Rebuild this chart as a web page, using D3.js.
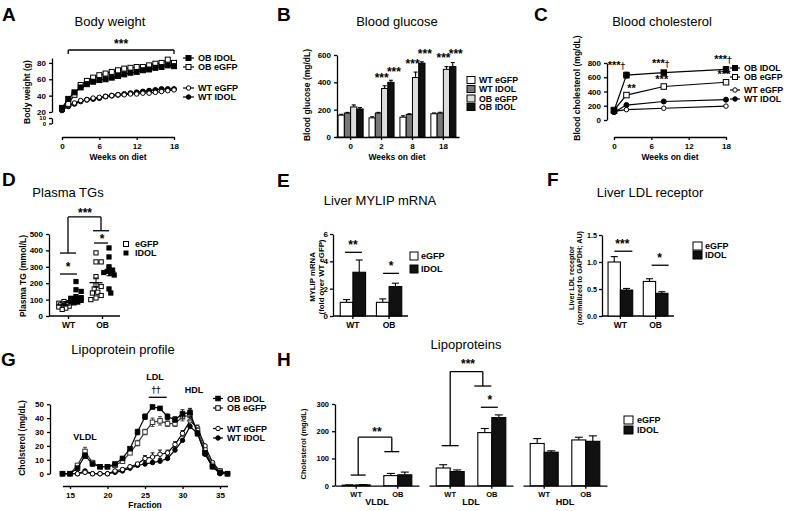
<!DOCTYPE html>
<html><head><meta charset="utf-8">
<script src="https://cdn.jsdelivr.net/npm/d3@7/dist/d3.min.js"></script>
<style>html,body{margin:0;padding:0;background:#fff;}svg{display:block;}</style>
</head><body>
<svg id="chart" width="791" height="511"></svg>
<script>
// ================= DATA =================
// A: Body weight (g)
const bwWeeks  = [0,1,2,3,4,5,6,7,8,9,10,11,12,13,14,15,16,17,18];
const bwOBIDOL = [25,36,44,50,54,57,59,60,62,64,66,68,69,71,72,74,75,77,76];
const bwOBeGFP = [24,30,41,53,58,62,65,67,69,71,73,74,75,75,77,79,80,84,80];
const bwWTeGFP = [25,28,31,34,35,37,38,39,40,41,41,42,42,43,43,44,45,46,47];
const bwWTIDOL = [22,27,30,33,35,36,37,39,40,41,42,43,44,45,46,47,48,48,48];
const bwTicksUpper = [20,40,60,80];
const bwTicksLower = [0,10];
const dietTicks = [0,6,12,18];

// B: Blood glucose (mg/dL)
const bgWeeks  = ["0","2","8","18"];
const bgGroups = ["WT eGFP","WT IDOL","OB eGFP","OB IDOL"];
const bgWTeGFP = [160,140,145,170];
const bgWTIDOL = [175,175,165,175];
const bgOBeGFP = [220,355,435,495];
const bgOBIDOL = [205,400,540,515];
const bgWTeGFPerr = [6,8,10,6];
const bgWTIDOLerr = [5,5,5,6];
const bgOBeGFPerr = [15,20,40,20];
const bgOBIDOLerr = [10,15,10,30];
const bgStarsOB = ["","***","***","***"];
const bgTicks = [0,200,400,600];

// C: Blood cholesterol (mg/dL)
const bcWeeks  = [0,2,8,18];
const bcOBIDOL = [130,630,665,710];
const bcOBeGFP = [140,350,470,530];
const bcWTeGFP = [120,145,165,195];
const bcWTIDOL = [110,210,260,285];
const bcOBIDOLerr = [20,40,20,40];
const bcOBeGFPerr = [20,20,30,30];
const bcStarsIDOL = ["","***","***","***"];
const bcStarsEGFP = ["","**","***","***"];
const bcTicks = [0,200,400,600,800];

// D: Plasma TG (individual mice)
const tgGenotypes = ["WT","OB"];
const tgWTeGFP = [40,48,55,60,64,67,70,72,75,78,82,88];
const tgWTIDOL = [80,85,90,95,100,104,108,112,118,150,160,210];
const tgOBeGFP = [100,110,125,140,145,165,180,190,240,330,330,385];
const tgOBIDOL = [140,165,250,260,265,272,280,300,360,415];
const tgTicks = [0,100,200,300,400,500];

// E: Liver MYLIP mRNA
const genotypes = ["WT","OB"];
const mylipEGFP = [1.0,1.0];
const mylipIDOL = [3.2,2.15];
const mylipEGFPerr = [0.2,0.25];
const mylipIDOLerr = [0.9,0.25];
const mylipTicks = [0,2,4,6];

// F: Liver LDL receptor
const ldlrEGFP = [1.0,0.64];
const ldlrIDOL = [0.48,0.42];
const ldlrEGFPerr = [0.1,0.05];
const ldlrIDOLerr = [0.03,0.03];
const ldlrTicks = [0,0.5,1.0,1.5];

// G: Lipoprotein profile
const fractions = [14,15,16,17,18,19,20,21,22,23,24,25,26,27,28,29,30,31,32,33,34,35,36];
const lpOBIDOL = [0,0,4,13,7,5,5,7,11,18,30,41,48,47,41,39,43,44,29,15,5,1,0];
const lpOBeGFP = [0,0,6,16,8,5,5,6,9,15,22,30,37,38,36,36,41,42,31,17,6,2,0];
const lpWTeGFP = [0,0,0,1,0,0,0,2,3,5,7,11,12,14,15,21,29,38,33,20,8,2,0];
const lpWTIDOL = [0,0,0,2,0,0,0,1,2,4,6,7,8,9,11,17,24,34,29,14,5,0,0];
const lpOBIDOLerr = [0,0,1,2,1,1,1,1,1,1,2,2,1,1,2,2,3,3,2,1,1,0,0];
const lpOBeGFPerr = [0,0,1,3,1,1,1,1,1,1,2,2,3,3,2,2,3,4,2,1,1,0,0];
const lpWTeGFPerr = [0,0,0,1,0,0,0,1,1,1,1,2,3,3,2,2,2,3,2,1,1,0,0];
const fractionTicks = [15,20,25,30,35];
const lpTicks = [0,10,20,30,40,50];

// H: Lipoproteins (mg/dL)
const lpClasses = ["VLDL","LDL","HDL"];
const lipEGFP = [[2,37],[65,195],[155,168]];
const lipIDOL = [[3,40],[52,250],[123,163]];
const lipEGFPerr = [[1,8],[12,15],[18,10]];
const lipIDOLerr = [[1,10],[6,10],[5,20]];
const lipTicks = [0,100,200,300];

// ================= DRAWING =================
const FONT = '"Liberation Sans", Arial, Helvetica, sans-serif';
const svg = d3.select("#chart").attr("font-family", FONT);

function T(x, y, s, o = {}) {
  return svg.append("text").attr("x", x).attr("y", y).text(s)
    .attr("font-size", o.fs || 8).attr("font-weight", o.fw || "bold")
    .attr("text-anchor", o.anchor || "start").attr("fill", "#000");
}
function rotT(x, y, s, fs) {
  return svg.append("text").attr("transform", `translate(${x},${y}) rotate(-90)`)
    .attr("text-anchor", "middle").attr("font-size", fs).attr("font-weight", "bold").attr("fill", "#000").text(s);
}
function L(x1, y1, x2, y2, w = 1.3, c = "#000") {
  svg.append("line").attr("x1", x1).attr("y1", y1).attr("x2", x2).attr("y2", y2)
    .attr("stroke", c).attr("stroke-width", w);
}
function stars(x, cy, s, fs = 12) { return T(x, cy + 0.57 * fs, s, { fs, anchor: "middle" }); }
function starsDagger(x, cy, s, fs = 11) {
  const t = svg.append("text").attr("x", x).attr("y", cy + 0.57 * fs).attr("text-anchor", "middle")
    .attr("font-size", fs).attr("font-weight", "bold").attr("fill", "#000");
  t.append("tspan").text(s);
  t.append("tspan").attr("font-family", "DejaVu Sans").attr("font-weight", "normal").attr("font-size", fs * 0.85).attr("fill", "#000").text("\u2020");
}
function styleAxis(g, fs = 8) {
  g.attr("font-family", FONT).attr("font-size", fs).attr("font-weight", "bold");
  g.select(".domain").attr("stroke", "#000").attr("stroke-width", 1.3);
  g.selectAll(".tick line").attr("stroke", "#000").attr("stroke-width", 1.3);
  g.selectAll(".tick text").attr("fill", "#000");
}
function mark(type, x, y, s, stroke = "#000") {
  const fill = type[1] === "F" ? "#000" : "#fff";
  if (type[0] === "s") svg.append("rect").attr("x", x - s / 2).attr("y", y - s / 2).attr("width", s).attr("height", s)
    .attr("fill", fill).attr("stroke", stroke).attr("stroke-width", 1);
  else svg.append("circle").attr("cx", x).attr("cy", y).attr("r", s / 2)
    .attr("fill", fill).attr("stroke", stroke).attr("stroke-width", 1);
}
function errV(x, y1, y2, cap, w = 1.1) { L(x, y1, x, y2, w); L(x - cap, y2, x + cap, y2, w); }
function panelLetter(x, y, s) { T(x, y, s, { fs: 19 }); }
function title(x, y, s) { T(x, y, s, { fs: 13, fw: "normal", anchor: "middle" }); }
function bracket(x1, x2, yTop, y1, y2, capW = 8) {
  L(x1, yTop, x2, yTop); L(x1, yTop, x1, y1); L(x2, yTop, x2, y2);
  L(x1 - capW, y1, x1 + capW, y1); L(x2 - capW, y2, x2 + capW, y2);
}

// ---------- Panel A ----------
panelLetter(2, 21, "A"); title(110, 26, "Body weight");
const xA = d3.scaleLinear().domain([0, 18]).range([62, 174]);
const yA = d3.scaleLinear().domain([20, 86]).range([112, 58]);
const yAlow = d3.scaleLinear().domain([0, 10]).range([123.5, 118]);
styleAxis(svg.append("g").attr("transform", "translate(52,0)")
  .call(d3.axisLeft(yA).tickValues(bwTicksUpper).tickSize(3).tickSizeOuter(0)));
styleAxis(svg.append("g").attr("transform", "translate(52,0)")
  .call(d3.axisLeft(yAlow).tickValues(bwTicksLower).tickSize(3).tickSizeOuter(0)), 6);
styleAxis(svg.append("g").attr("transform", "translate(0,137)")
  .call(d3.axisBottom(xA).tickValues(dietTicks).tickSize(3).tickSizeOuter(0)));
T(118, 160, "Weeks on diet", { fs: 8.5, anchor: "middle" });
rotT(30, 92, "Body weight (g)", 8.5);
const bwSeries = [
  { v: bwWTIDOL, t: "cF", s: 5 }, { v: bwWTeGFP, t: "cO", s: 4.5 },
  { v: bwOBeGFP, t: "sO", s: 5 }, { v: bwOBIDOL, t: "sF", s: 5 }];
bwSeries.forEach(se => {
  svg.append("path").datum(se.v).attr("fill", "none").attr("stroke", "#000").attr("stroke-width", 1.2)
    .attr("d", d3.line().x((d, i) => xA(bwWeeks[i])).y(d => yA(d)));
  se.v.forEach((d, i) => mark(se.t, xA(bwWeeks[i]), yA(d), se.s));
});
bracket(xA(1), xA(18), 50, 54, 54, 0);
stars(xA(9.5), 41, "***", 12);
[["OB IDOL", "sF", 58], ["OB eGFP", "sO", 67], ["WT eGFP", "cO", 88], ["WT IDOL", "cF", 97]].forEach(([n, t, y]) => {
  L(183, y, 194, y, 1.2); mark(t, 188.5, y, t[0] === "s" ? 5 : 4.5); T(198, y + 3.3, n, { fs: 9 });
});

// ---------- Panel B ----------
panelLetter(277, 21, "B"); title(397, 26, "Blood glucose");
const xB = d3.scaleBand().domain(bgWeeks).range([335, 459]).paddingInner(0.19).paddingOuter(0.1);
const xBi = d3.scaleBand().domain(bgGroups).range([0, xB.bandwidth()]);
const yB = d3.scaleLinear().domain([0, 600]).range([137, 55]);
styleAxis(svg.append("g").attr("transform", "translate(337,0)")
  .call(d3.axisLeft(yB).tickValues(bgTicks).tickSize(3).tickSizeOuter(0)));
styleAxis(svg.append("g").attr("transform", "translate(0,137)")
  .call(d3.axisBottom(xB).tickSize(3).tickSizeOuter(0)));
T(397, 160, "Weeks on diet", { fs: 8.5, anchor: "middle" });
rotT(310, 95, "Blood glucose (mg/dL)", 8.5);
const bgVals = [bgWTeGFP, bgWTIDOL, bgOBeGFP, bgOBIDOL];
const bgErrs = [bgWTeGFPerr, bgWTIDOLerr, bgOBeGFPerr, bgOBIDOLerr];
const bgFill = ["#fff", "#777", "#ddd", "#111"];
bgGroups.forEach((grp, s) => {
  bgWeeks.forEach((w, i) => {
    const x = xB(w) + xBi(grp), bw = xBi.bandwidth(), v = bgVals[s][i];
    errV(x + bw / 2, yB(v), yB(v + bgErrs[s][i]), 2);
    svg.append("rect").attr("x", x).attr("y", yB(v)).attr("width", bw).attr("height", yB(0) - yB(v))
      .attr("fill", bgFill[s]).attr("stroke", "#000").attr("stroke-width", 1);
  });
});
bgWeeks.forEach((w, i) => {
  if (!bgStarsOB[i]) return;
  const bw = xBi.bandwidth();
  stars(xB(w) + xBi("OB eGFP") + bw / 2 - 3, yB(bgOBeGFP[i] + bgOBeGFPerr[i]) - 11, bgStarsOB[i]);
  stars(xB(w) + xBi("OB IDOL") + bw / 2 + 3, yB(bgOBIDOL[i] + bgOBIDOLerr[i]) - 11, bgStarsOB[i]);
});
bgGroups.forEach((grp, s) => {
  const y = [80, 89, 98.5, 107][s];
  svg.append("rect").attr("x", 467).attr("y", y - 3.5).attr("width", 8).attr("height", 7)
    .attr("fill", bgFill[s]).attr("stroke", "#000").attr("stroke-width", 1);
  T(479, y + 3.2, grp, { fs: 8.8 });
});

// ---------- Panel C ----------
panelLetter(534, 21, "C"); title(662, 26, "Blood cholesterol");
const xC = d3.scaleLinear().domain([0, 18]).range([614, 726]);
const yC = d3.scaleLinear().domain([0, 800]).range([120, 63]);
styleAxis(svg.append("g").attr("transform", "translate(607,0)")
  .call(d3.axisLeft(yC).tickValues(bcTicks).tickSize(3).tickSizeOuter(0)));
styleAxis(svg.append("g").attr("transform", "translate(0,137)")
  .call(d3.axisBottom(xC).tickValues(dietTicks).tickSize(3).tickSizeOuter(0)));
T(670, 160, "Weeks on diet", { fs: 8.5, anchor: "middle" });
rotT(580, 88, "Blood cholesterol (mg/dL)", 8.5);
const bcSeries = [
  { v: bcWTeGFP, t: "cO", s: 4.5, e: null }, { v: bcWTIDOL, t: "cF", s: 5, e: null },
  { v: bcOBeGFP, t: "sO", s: 5.5, e: bcOBeGFPerr }, { v: bcOBIDOL, t: "sF", s: 5.5, e: bcOBIDOLerr }];
bcSeries.forEach(se => {
  svg.append("path").datum(se.v).attr("fill", "none").attr("stroke", "#000").attr("stroke-width", 1.2)
    .attr("d", d3.line().x((d, i) => xC(bcWeeks[i])).y(d => yC(d)));
  se.v.forEach((d, i) => {
    if (se.e) { errV(xC(bcWeeks[i]), yC(d - se.e[i]), yC(d + se.e[i]), 2); L(xC(bcWeeks[i]) - 2, yC(d - se.e[i]), xC(bcWeeks[i]) + 2, yC(d - se.e[i]), 1.1); }
    mark(se.t, xC(bcWeeks[i]), yC(d), se.s);
  });
});
bcWeeks.forEach((w, i) => {
  if (bcStarsIDOL[i]) starsDagger(xC(w) - (i === 1 ? 10 : 3), yC(bcOBIDOL[i] + bcOBIDOLerr[i]) - 10, bcStarsIDOL[i], 11);
  if (bcStarsEGFP[i]) stars(xC(w) + (i === 1 ? 5 : -2), yC(bcOBeGFP[i] + bcOBeGFPerr[i]) - 8, bcStarsEGFP[i], 11);
});
[["OB IDOL", "sF", 68], ["OB eGFP", "sO", 77], ["WT eGFP", "cO", 90], ["WT IDOL", "cF", 99]].forEach(([n, t, y]) => {
  L(730, y, 740, y, 1.2); mark(t, 735, y, t[0] === "s" ? 5 : 4.5); T(744, y + 3.2, n, { fs: 8.8 });
});

// ---------- Panel D ----------
panelLetter(2, 186, "D"); title(68, 197, "Plasma TGs");
const xD = d3.scalePoint().domain(tgGenotypes).range([68, 102]);
const yD = d3.scaleLinear().domain([0, 500]).range([316, 234]);
styleAxis(svg.append("g").attr("transform", "translate(49,0)")
  .call(d3.axisLeft(yD).tickValues(tgTicks).tickSize(3).tickSizeOuter(0)));
const axD = svg.append("g").attr("transform", "translate(0,316)")
  .call(d3.axisBottom(xD).tickSize(3).tickSizeOuter(0));
axD.select(".domain").attr("d", "M49,0H120");
styleAxis(axD, 8.5);
rotT(26, 276, "Plasma TG (mmol/L)", 8.5);
function dodge(vals, cx, d) {
  const pts = vals.map(v => ({ v, y: yD(v) })).sort((a, b) => a.y - b.y);
  const placed = [];
  const offs = [0, 1.8, -1.8, 3.6, -3.6, 5.2, -5.2];
  pts.forEach(p => {
    let best = cx, bestD = -1;
    for (const o of offs) {
      const x = cx + o;
      const md = placed.length ? d3.min(placed, q => Math.hypot(q.x - x, q.y - p.y)) : Infinity;
      if (md >= d) { best = x; break; }
      if (md > bestD) { bestD = md; best = x; }
    }
    p.x = best; placed.push(p);
  });
  return placed;
}
const tgSets = [
  { v: tgWTeGFP, g: "WT", dx: -4, t: "sO" }, { v: tgWTIDOL, g: "WT", dx: 8, t: "sF" },
  { v: tgOBeGFP, g: "OB", dx: -6, t: "sO" }, { v: tgOBIDOL, g: "OB", dx: 7, t: "sF" }];
tgSets.forEach(se => {
  const cx = xD(se.g) + se.dx;
  dodge(se.v, cx, 4.4).forEach(p => mark(se.t, p.x, p.y, 4.2));
  const m = d3.mean(se.v), sem = d3.deviation(se.v) / Math.sqrt(se.v.length);
  L(cx - 6.5, yD(m), cx + 6.5, yD(m), 1.3);
  L(cx, yD(m - sem), cx, yD(m + sem), 1);
  L(cx - 2.5, yD(m - sem), cx + 2.5, yD(m - sem), 1); L(cx - 2.5, yD(m + sem), cx + 2.5, yD(m + sem), 1);
});
L(xD("WT") - 8, yD(256), xD("WT") + 9, yD(256)); stars(xD("WT"), yD(256) - 10, "*");
L(xD("OB") - 8, yD(445), xD("OB") + 6, yD(445)); stars(xD("OB"), yD(445) - 7, "*");
bracket(xD("WT"), xD("OB") - 1, yD(604), yD(384), yD(520), 8);
stars((xD("WT") + xD("OB")) / 2, yD(604) - 7, "***");
mark("sO", 126, 244, 5); T(135, 247.3, "eGFP", { fs: 9 });
mark("sF", 126, 253, 4); T(135, 256.3, "IDOL", { fs: 9 });

// ---------- grouped bar helper (E, F) ----------
function pairBars(x0, x1, axisX, yScale, ticks, eg, id, egE, idE, tickFmt, fs) {
  const xb = d3.scaleBand().domain(genotypes).range([x0, x1]).paddingInner(0.3).paddingOuter(0.2);
  const xi = d3.scaleBand().domain(["eGFP", "IDOL"]).range([0, xb.bandwidth()]);
  styleAxis(svg.append("g").attr("transform", `translate(${axisX},0)`)
    .call(d3.axisLeft(yScale).tickValues(ticks).tickSize(3).tickPadding(2).tickSizeOuter(0).tickFormat(tickFmt)), fs);
  const ax = svg.append("g").attr("transform", `translate(0,${yScale(0)})`)
    .call(d3.axisBottom(xb).tickSize(3).tickSizeOuter(0));
  ax.select(".domain").attr("d", `M${axisX},0H${x1 - 1}`);
  styleAxis(ax, 8.5);
  genotypes.forEach((gn, i) => {
    [["eGFP", eg, egE, "#fff"], ["IDOL", id, idE, "#111"]].forEach(([k, vals, errs, f]) => {
      const x = xb(gn) + xi(k), bw = xi.bandwidth(), v = vals[i];
      errV(x + bw / 2, yScale(v), yScale(v + errs[i]), 3.5);
      svg.append("rect").attr("x", x).attr("y", yScale(v)).attr("width", bw).attr("height", yScale(0) - yScale(v))
        .attr("fill", f).attr("stroke", "#000").attr("stroke-width", 1.1);
    });
  });
  return xb;
}

// ---------- Panel E ----------
panelLetter(277, 187, "E"); title(380, 205, "Liver MYLIP mRNA");
const yE = d3.scaleLinear().domain([0, 6]).range([316, 234]);
const xE = pairBars(333, 409, 333, yE, mylipTicks, mylipEGFP, mylipIDOL, mylipEGFPerr, mylipIDOLerr, d3.format("d"), 8);
const cE = g => xE(g) + xE.bandwidth() / 2;
L(cE("WT") - 8, yE(4.66), cE("WT") + 9, yE(4.66)); stars(cE("WT"), yE(4.66) - 10, "**");
L(cE("OB") - 6, yE(3.12), cE("OB") + 10, yE(3.12)); stars(cE("OB") + 2, yE(3.12) - 10, "*");
rotT(315, 277, "MYLIP mRNA", 7.8); rotT(323.5, 277, "(fold over WT eGFP)", 7.8);
svg.append("rect").attr("x", 410).attr("y", 252).attr("width", 8).attr("height", 8).attr("fill", "#fff").attr("stroke", "#000");
T(421, 259, "eGFP", { fs: 9 });
svg.append("rect").attr("x", 410).attr("y", 265).attr("width", 8).attr("height", 8).attr("fill", "#111").attr("stroke", "#000");
T(421, 272, "IDOL", { fs: 9 });

// ---------- Panel F ----------
panelLetter(547, 186, "F"); title(650, 197, "Liver LDL receptor");
const yF = d3.scaleLinear().domain([0, 1.5]).range([316, 235]);
const xF = pairBars(601, 675, 602, yF, ldlrTicks, ldlrEGFP, ldlrIDOL, ldlrEGFPerr, ldlrIDOLerr, d3.format(".1f"), 7.2);
const cF = g => xF(g) + xF.bandwidth() / 2;
L(cF("WT") - 6, yF(1.2), cF("WT") + 12, yF(1.2)); stars(cF("WT") + 2, yF(1.2) - 10, "***");
L(cF("OB") - 4, yF(0.94), cF("OB") + 13, yF(0.94)); stars(cF("OB") + 4, yF(0.94) - 10, "*");
rotT(574, 278, "Liver LDL receptor", 7.2); rotT(582, 278, "(normalized to GAPDH; AU)", 7.2);
svg.append("rect").attr("x", 693).attr("y", 242).attr("width", 9).attr("height", 8).attr("fill", "#fff").attr("stroke", "#000");
T(705, 249, "eGFP", { fs: 9 });
svg.append("rect").attr("x", 693).attr("y", 251).attr("width", 9).attr("height", 8).attr("fill", "#111").attr("stroke", "#000");
T(705, 258, "IDOL", { fs: 9 });

// ---------- Panel G ----------
panelLetter(1, 366, "G"); title(123, 354, "Lipoprotein profile");
const xG = d3.scaleLinear().domain([14, 36]).range([62.5, 227.5]);
const yG = d3.scaleLinear().domain([0, 50]).range([473.7, 404.2]);
styleAxis(svg.append("g").attr("transform", "translate(50,0)")
  .call(d3.axisLeft(yG).tickValues(lpTicks).tickSize(3).tickSizeOuter(0)));
styleAxis(svg.append("g").attr("transform", "translate(0,486)")
  .call(d3.axisBottom(xG).tickValues(fractionTicks).tickSize(3).tickSizeOuter(0)));
T(145, 508, "Fraction", { fs: 8.5, anchor: "middle" });
rotT(25, 438, "Cholsterol (mg/dL)", 8.5);
const lpSeries = [
  { v: lpWTIDOL, e: null, t: "cF", s: 4.5, c: "#000" }, { v: lpWTeGFP, e: lpWTeGFPerr, t: "cO", s: 4.5, c: "#000" },
  { v: lpOBeGFP, e: lpOBeGFPerr, t: "sO", s: 4.5, c: "#333" }, { v: lpOBIDOL, e: lpOBIDOLerr, t: "sF", s: 4.5, c: "#000" }];
lpSeries.forEach(se => {
  svg.append("path").datum(se.v).attr("fill", "none").attr("stroke", se.c).attr("stroke-width", 1.2)
    .attr("d", d3.line().x((d, i) => xG(fractions[i])).y(d => yG(d)));
  se.v.forEach((d, i) => {
    const x = xG(fractions[i]);
    if (se.e && se.e[i] > 0) { L(x, yG(d - se.e[i]), x, yG(d + se.e[i]), 0.9, se.c); L(x - 2, yG(d + se.e[i]), x + 2, yG(d + se.e[i]), 0.9, se.c); L(x - 2, yG(d - se.e[i]), x + 2, yG(d - se.e[i]), 0.9, se.c); }
    mark(se.t, x, yG(d), se.s, se.c);
  });
});
T(85, 440, "VLDL", { fs: 9, anchor: "middle" });
T(155, 380, "LDL", { fs: 9, anchor: "middle" });
svg.append("text").attr("x", 156).attr("y", 393).attr("text-anchor", "middle").attr("font-size", 9)
  .attr("font-family", "DejaVu Sans").attr("fill", "#000").text("\u2020\u2020");
L(xG(25.5), 397.3, xG(27.9), 397.3);
T(194, 393, "HDL", { fs: 9, anchor: "middle" });
[["OB IDOL", "sF", 398.5], ["OB eGFP", "sO", 408], ["WT eGFP", "cO", 428.5], ["WT IDOL", "cF", 438]].forEach(([n, t, y]) => {
  L(213, y, 223, y, 1.2); mark(t, 218, y, 4.5); T(227, y + 3.2, n, { fs: 9 });
});

// ---------- Panel H ----------
panelLetter(277, 366, "H"); title(466, 349, "Lipoproteins");
const yH = d3.scaleLinear().domain([0, 300]).range([485.7, 404]);
styleAxis(svg.append("g").attr("transform", "translate(335,0)")
  .call(d3.axisLeft(yH).tickValues(lipTicks).tickSize(3).tickSizeOuter(0)), 7.5);
rotT(306, 444, "Cholesterol (mg/dL)", 7.5);
const segStart = d3.scalePoint().domain(lpClasses).range([335, 523]);
const hBands = {};
lpClasses.forEach((cl, ci) => {
  const s0 = segStart(cl);
  const xb = d3.scaleBand().domain(genotypes).range([s0, s0 + 84]).paddingInner(0.327).paddingOuter(0.173);
  hBands[cl] = xb;
  const xi = d3.scaleBand().domain(["eGFP", "IDOL"]).range([0, xb.bandwidth()]);
  const ax = svg.append("g").attr("transform", `translate(0,${yH(0)})`)
    .call(d3.axisBottom(xb).tickSize(3).tickSizeOuter(0));
  styleAxis(ax, 7.5);
  T(s0 + 42, 505, cl, { fs: 9, anchor: "middle" });
  genotypes.forEach((gn, i) => {
    [["eGFP", lipEGFP, lipEGFPerr, "#fff"], ["IDOL", lipIDOL, lipIDOLerr, "#111"]].forEach(([k, vals, errs, f]) => {
      const x = xb(gn) + xi(k), bw = xi.bandwidth(), v = vals[ci][i];
      errV(x + bw / 2, yH(v), yH(v + errs[ci][i]), 4);
      svg.append("rect").attr("x", x).attr("y", yH(v)).attr("width", bw).attr("height", yH(0) - yH(v))
        .attr("fill", f).attr("stroke", "#000").attr("stroke-width", 1.1);
    });
  });
});
const cH = (cl, g) => hBands[cl](g) + hBands[cl].bandwidth() / 2;
bracket(cH("VLDL", "WT") + 2, cH("VLDL", "OB") - 6, yH(178), yH(39), yH(125), 7.5);
stars((cH("VLDL", "WT") + cH("VLDL", "OB")) / 2, yH(178) - 8, "**");
bracket(cH("LDL", "WT"), cH("LDL", "OB") - 9, yH(419), yH(147), yH(366), 8.5);
stars((cH("LDL", "WT") + cH("LDL", "OB")) / 2 - 3, yH(419) - 10, "***");
L(cH("LDL", "OB") - 11, yH(288), cH("LDL", "OB") + 6, yH(288)); stars(cH("LDL", "OB") - 2, yH(288) - 10, "*");
svg.append("rect").attr("x", 624).attr("y", 416).attr("width", 9).attr("height", 8).attr("fill", "#fff").attr("stroke", "#000");
T(637, 423, "eGFP", { fs: 9 });
svg.append("rect").attr("x", 624).attr("y", 426).attr("width", 9).attr("height", 8).attr("fill", "#111").attr("stroke", "#000");
T(637, 433, "IDOL", { fs: 9 });
</script>
</body></html>
